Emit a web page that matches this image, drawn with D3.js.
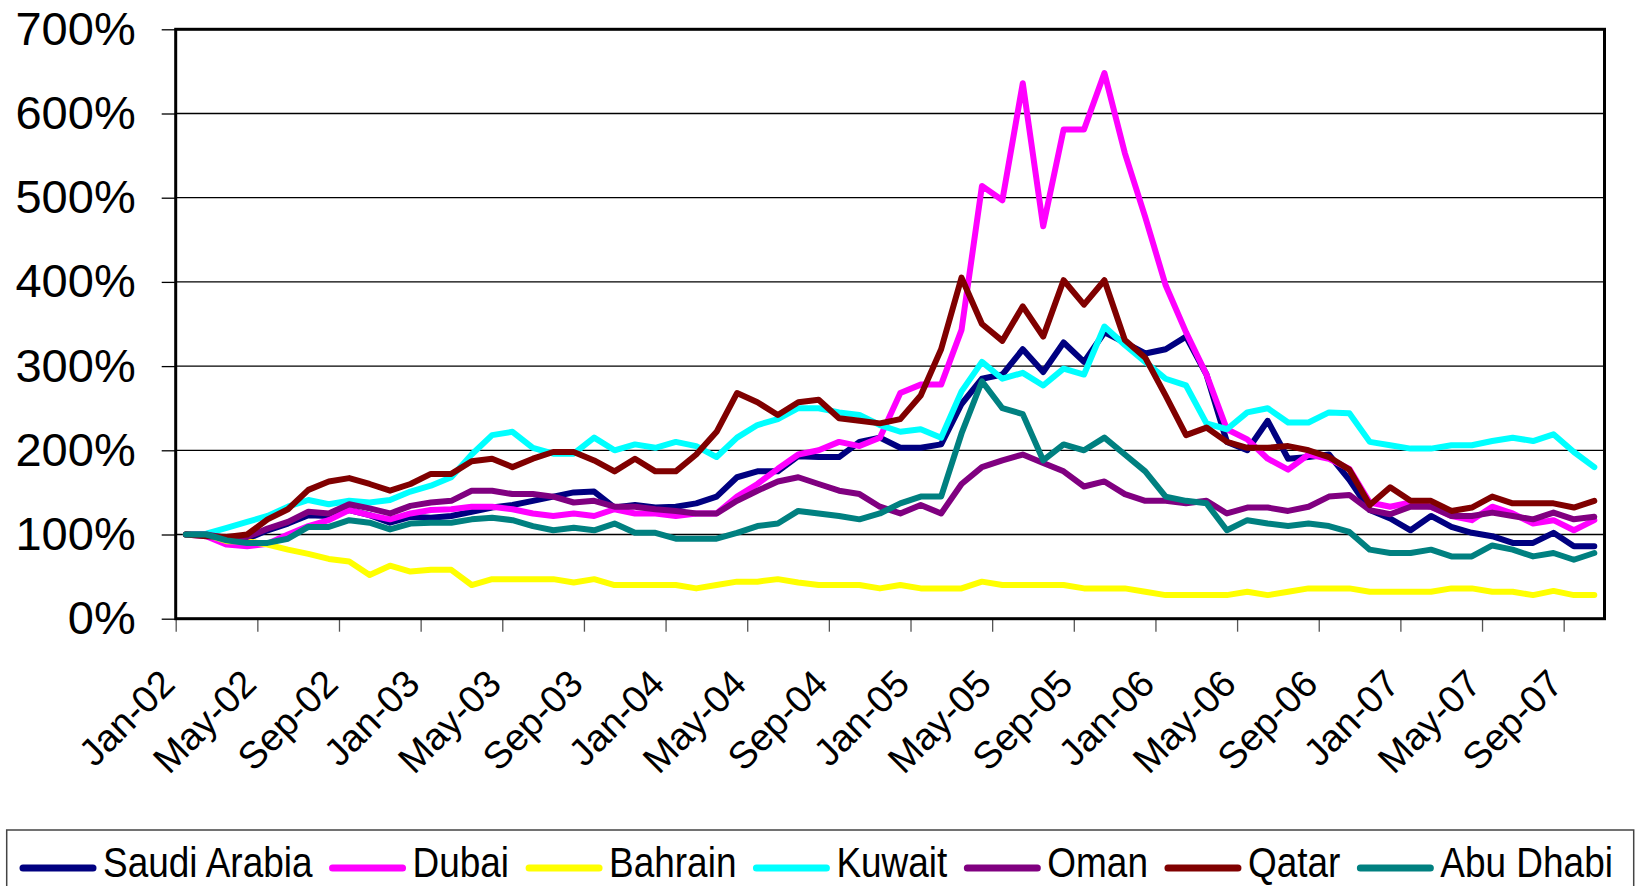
<!DOCTYPE html>
<html>
<head>
<meta charset="utf-8">
<script src="https://cdn.jsdelivr.net/npm/d3@7"></script>
<style>
  html, body { margin: 0; padding: 0; background: #fff; }
  svg { display: block; font-family: "Liberation Sans", Arial, sans-serif; }
</style>
</head>
<body>
<svg id="chart" width="1637" height="886"></svg>
<script>
// months Jan-02 .. Oct-07 (70 categories)
const months = d3.timeMonth.range(new Date(2002, 0, 1), new Date(2007, 10, 1));
const fmtMonth = d3.timeFormat("%b-%y");
const labelEvery = 4;
const yTicks = [0, 100, 200, 300, 400, 500, 600, 700];

// index values, % of Jan-02
const saudiArabia = [100,100,95,95,105,113,123,122,129,123,
  114,121,120,122,127,132,135,140,145,150,
  151,132,135,132,133,137,145,168,175,175,
  193,192,192,210,215,203,203,207,255,285,
  290,320,293,328,305,340,328,315,320,335,
  290,210,200,235,190,192,195,165,129,119,
  105,122,109,102,98,90,90,102,86,86];
const dubai = [100,98,88,86,89,100,110,117,129,123,
  118,125,129,130,133,133,130,125,122,125,
  122,130,125,125,122,125,125,145,160,178,
  195,200,210,205,215,268,278,278,343,514,
  497,636,466,581,581,648,553,477,396,340,
  290,225,213,190,177,195,190,178,138,133,
  138,133,122,117,133,125,113,117,105,117];
const bahrain = [100,100,92,92,88,82,77,71,68,52,
  63,56,58,58,40,47,47,47,47,43,
  47,40,40,40,40,36,40,44,44,47,
  43,40,40,40,36,40,36,36,36,44,
  40,40,40,40,36,36,36,32,28,28,
  28,28,32,28,32,36,36,36,32,32,
  32,32,36,36,32,32,28,33,28,28];
const kuwait = [100,101,108,115,122,133,141,136,140,138,
  141,151,158,168,195,218,222,203,196,196,
  215,200,207,203,210,205,192,215,230,237,
  250,250,245,242,230,222,225,215,270,305,
  285,292,277,297,290,347,325,305,285,277,
  232,225,245,250,233,233,245,244,210,206,
  202,202,206,206,211,215,211,219,198,180];
const oman = [100,100,96,97,107,115,127,125,136,131,
  125,134,138,140,152,152,148,148,145,138,
  140,133,133,130,128,125,125,140,152,163,
  168,160,152,148,133,125,135,125,160,180,
  188,195,185,175,157,163,148,140,140,137,
  140,125,132,132,128,133,145,147,129,124,
  133,133,122,122,126,122,118,126,118,121];
const qatar = [100,98,97,100,118,130,153,163,167,160,
  152,160,172,172,187,190,180,190,198,198,
  188,175,190,175,175,195,222,268,257,242,
  257,260,238,235,232,237,265,320,405,350,
  330,371,335,402,373,402,331,310,265,218,
  227,210,203,203,205,200,192,177,135,156,
  140,140,128,132,145,137,137,137,132,140];
const abuDhabi = [100,100,93,90,90,95,109,109,117,114,
  106,113,114,114,118,120,117,110,105,108,
  105,113,102,102,95,95,95,102,110,113,
  128,125,122,118,125,137,145,145,220,282,
  250,243,188,207,200,215,195,175,145,140,
  137,105,117,113,110,113,110,103,82,78,
  78,82,74,74,87,82,74,78,70,78];

const seriesNames = ["Saudi Arabia", "Dubai", "Bahrain", "Kuwait", "Oman", "Qatar", "Abu Dhabi"];
const seriesValues = [saudiArabia, dubai, bahrain, kuwait, oman, qatar, abuDhabi];
const seriesColors = ["#000080", "#ff00ff", "#ffff00", "#00ffff", "#800080", "#800000", "#008080"];

const plot = {left: 175.7, right: 1604.5, top: 29.3, bottom: 618.7};

const svg = d3.select("#chart");

// category index scale: boundaries at integers, points at i + 0.5
const x = d3.scaleLinear().domain([0, months.length]).range([plot.left, plot.right]);
const y = d3.scaleLinear().domain([0, 700]).range([plot.bottom, plot.top]);

// gridlines
svg.append("g")
  .selectAll("line")
  .data(yTicks.slice(1))
  .join("line")
    .attr("x1", plot.left).attr("x2", plot.right)
    .attr("y1", d => y(d)).attr("y2", d => y(d))
    .attr("stroke", "#000").attr("stroke-width", 1.3);

// y axis
const gy = svg.append("g")
  .attr("transform", `translate(${plot.left},0)`)
  .call(d3.axisLeft(y).tickValues(yTicks).tickFormat(d => d + "%").tickSize(14).tickPadding(26).tickSizeOuter(0));
gy.select(".domain").remove();
gy.selectAll(".tick line").attr("stroke", "#000").attr("stroke-width", 1.3);
gy.selectAll(".tick text")
  .attr("font-family", "Liberation Sans, Arial, sans-serif")
  .attr("font-size", 47).attr("fill", "#000");

// x axis ticks at category boundaries
const tickIdx = d3.range(0, months.length, labelEvery);
const gx = svg.append("g")
  .attr("transform", `translate(0,${plot.bottom})`)
  .call(d3.axisBottom(x).tickValues(tickIdx).tickFormat("").tickSize(13).tickSizeOuter(0));
gx.select(".domain").remove();
gx.selectAll(".tick line").attr("stroke", "#555").attr("stroke-width", 1.3);

// rotated month labels
svg.append("g")
  .selectAll("text")
  .data(tickIdx)
  .join("text")
    .attr("transform", i => `translate(${x(i + 0.5) - 9},686) rotate(-45)`)
    .attr("text-anchor", "end")
    .attr("font-size", 38)
    .attr("fill", "#000")
    .text(i => fmtMonth(months[i]));

// lines
const line = d3.line()
  .x((d, i) => x(i + 0.5))
  .y(d => y(d));

svg.append("g")
  .selectAll("path")
  .data(seriesValues)
  .join("path")
    .attr("d", line)
    .attr("fill", "none")
    .attr("stroke", (d, i) => seriesColors[i])
    .attr("stroke-width", 6)
    .attr("stroke-linejoin", "round")
    .attr("stroke-linecap", "round");

// plot frame
svg.append("rect")
  .attr("x", plot.left).attr("y", plot.top)
  .attr("width", plot.right - plot.left).attr("height", plot.bottom - plot.top)
  .attr("fill", "none").attr("stroke", "#000").attr("stroke-width", 3);

// legend (box runs past the bottom edge like the original)
svg.append("rect")
  .attr("x", 6.7).attr("y", 830).attr("width", 1627).attr("height", 80)
  .attr("fill", "none").attr("stroke", "#444").attr("stroke-width", 1.5);

const legendScale = 0.88;
let lx = 20;
seriesNames.forEach((name, i) => {
  svg.append("line")
    .attr("x1", lx + 3).attr("x2", lx + 73)
    .attr("y1", 868).attr("y2", 868)
    .attr("stroke", seriesColors[i]).attr("stroke-width", 7)
    .attr("stroke-linecap", "round");
  const t = svg.append("text")
    .attr("transform", `translate(${lx + 83},877) scale(${legendScale},1)`)
    .attr("font-size", 42)
    .attr("fill", "#000")
    .text(name);
  lx += 83 + t.node().getComputedTextLength() * legendScale + 17;
});
</script>
</body>
</html>
